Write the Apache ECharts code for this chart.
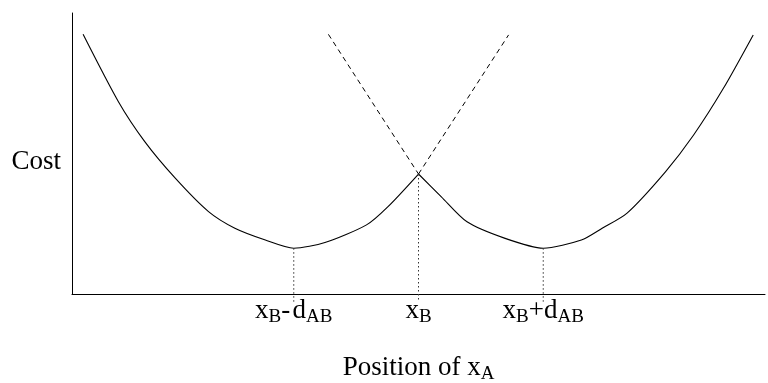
<!DOCTYPE html>
<html>
<head>
<meta charset="utf-8">
<script src="https://cdn.jsdelivr.net/npm/echarts@6/dist/echarts.min.js"></script>
<style>
  html, body { margin: 0; padding: 0; background: #fff; }
  #chart { width: 768px; height: 383px; }
</style>
</head>
<body>
<div id="chart"></div>
<script>
// Positions along the x axis (x_B and the two offsets by d_AB)
const xB = 50;
const dAB = 18;
const tickValues = [xB - dAB, xB, xB + dAB];
const tickLabels = ['{m|x}{s|B}{m|-\u200Ad}{s|AB}', '{m|x}{s|B}', '{m|x}{s|B}{m|+d}{s|AB}'];

// Cost curve, left of x_B (up to the peak)
const leftX = [1.6, 6.7, 10.5, 14.9, 19.7, 23.5, 27.9, 32, 36.5, 42.5, 45.6, 50];
const leftY = [92.4, 68.4, 54.2, 41.2, 29.3, 23.4, 19.2, 16.3, 18.3, 24.6, 31.1, 42.7];

// Cost curve, right of x_B (from the peak)
const rightX = [50, 53.3, 57.0, 62.5, 68, 73.5, 76.5, 80.1, 85.6, 89.7, 94.0, 98.3];
const rightY = [42.7, 34.6, 25.7, 19.8, 16.3, 19.2, 23.4, 28.8, 43.4, 56.6, 73.2, 92.2];

// Dashed continuations of each branch past x_B
const dashLeftX = [37.0, 50];
const dashLeftY = [92.4, 42.7];
const dashRightX = [50, 63.0];
const dashRightY = [42.7, 92.2];

// Dotted drop lines from the minima and the peak
const dropX = [32, 50, 68];
const dropTopY = [16.3, 42.7, 16.3];
const dropBottomY = -2.8;

const SERIF = '"Liberation Serif", "Times New Roman", serif';

const zip = (xs, ys) => xs.map((x, i) => [x, ys[i]]);

const richText = {
  m: { fontSize: 27, fontFamily: SERIF, color: '#000', lineHeight: 30, verticalAlign: 'top' },
  s: { fontSize: 19, fontFamily: SERIF, color: '#000', lineHeight: 16, verticalAlign: 'bottom' }
};

const solidStyle = { color: '#000', width: 1.1, type: 'solid' };

const series = [
  {
    type: 'line', data: zip(leftX, leftY), smooth: 0.25,
    symbol: 'none', lineStyle: solidStyle, z: 3
  },
  {
    type: 'line', data: zip(rightX, rightY), smooth: 0.25,
    symbol: 'none', lineStyle: solidStyle, z: 3
  },
  {
    type: 'line', data: zip(dashLeftX, dashLeftY), symbol: 'none',
    lineStyle: { color: '#000', width: 1, type: [5, 4] }
  },
  {
    type: 'line', data: zip(dashRightX, dashRightY), symbol: 'none',
    lineStyle: { color: '#000', width: 1, type: [5, 4] }
  }
];

dropX.forEach((x, i) => {
  series.push({
    type: 'line', data: [[x, dropTopY[i]], [x, dropBottomY]], symbol: 'none', clip: false,
    lineStyle: { color: '#333', width: 1, type: [1.5, 2.5] }
  });
});

const chart = echarts.init(document.getElementById('chart'), null, { renderer: 'canvas' });
chart.setOption({
  animation: false,
  backgroundColor: '#fff',
  grid: { left: 72, right: 3, top: 13, bottom: 89, containLabel: false, outerBoundsMode: 'none' },
  xAxis: {
    type: 'value', min: 0, max: 100,
    axisLine: { show: true, lineStyle: { color: '#000', width: 1 } },
    axisTick: { show: false },
    splitLine: { show: false },
    axisLabel: {
      show: true,
      customValues: tickValues,
      margin: 3,
      formatter: (v) => tickLabels[tickValues.indexOf(v)] || '',
      rich: richText
    },
    name: '{m|Position of x}{s|A}',
    nameLocation: 'middle',
    nameGap: 60,
    nameTextStyle: { rich: richText }
  },
  yAxis: {
    type: 'value', min: 0, max: 100,
    axisLine: { show: true, lineStyle: { color: '#000', width: 1 } },
    axisTick: { show: false },
    axisLabel: { show: false },
    splitLine: { show: false },
    name: 'Cost',
    nameLocation: 'middle',
    nameRotate: 0,
    nameGap: 11,
    nameTextStyle: { fontSize: 27, fontFamily: SERIF, color: '#000', verticalAlign: 'top', lineHeight: 16 }
  },
  series: series
});
</script>
</body>
</html>
